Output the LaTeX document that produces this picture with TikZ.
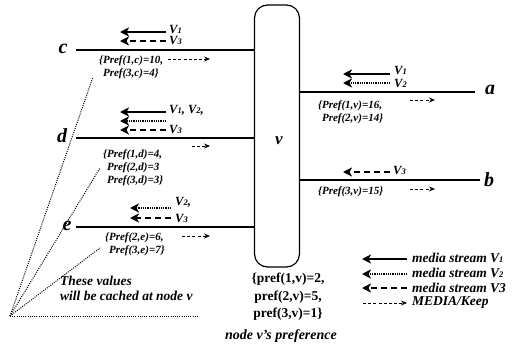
\documentclass[tikz,border=0pt]{standalone}
\usepackage{fontspec}
\setmainfont{Liberation Serif}
\usetikzlibrary{arrows.meta}
\newcommand{\sidx}[1]{{\fontsize{8.5}{8.5}\selectfont #1}}
\begin{document}
\begin{tikzpicture}[x=1pt,y=-1pt,
  lbl/.style={font=\bfseries\itshape\fontsize{11}{13}\selectfont, inner sep=0pt, align=left, anchor=west},
  vlbl/.style={font=\bfseries\itshape\fontsize{12.5}{13}\selectfont, inner sep=0pt, anchor=west},
  big/.style={font=\bfseries\itshape\fontsize{13.5}{14.5}\selectfont, inner sep=0pt, align=left, anchor=west},
  letter/.style={font=\bfseries\itshape\fontsize{20}{20}\selectfont, inner sep=0pt},
  link/.style={line width=1.2pt},
  sA/.style={line width=2.4pt, -{Stealth[length=9pt,width=9pt,inset=2.5pt]}},
  sB/.style={line width=1.8pt, dash pattern=on 1pt off 0.8pt, -{Stealth[length=9pt,width=9pt,inset=2.5pt]}},
  sC/.style={line width=2.4pt, dash pattern=on 6pt off 4pt, -{Stealth[length=9pt,width=9pt,inset=2.5pt]}},
  keep/.style={line width=0.8pt, dash pattern=on 3pt off 2.2pt, -{Stealth[length=6pt,width=5pt]}},
  cache/.style={line width=1pt, dash pattern=on 1pt off 1.2pt},
]
\useasboundingbox (0,0) rectangle (530,348);

% central node v
\node[draw, line width=1.2pt, rounded corners=13pt, minimum width=45pt, minimum height=262pt, inner sep=0pt] (v) at (277,136) {};
\node[font=\bfseries\itshape\fontsize{17}{17}\selectfont, inner sep=0pt] (vlab) at (279,141) {v};

% ---- left links ----
\node[letter] (c) at (63,49) {c};
\node[letter] (d) at (62,136) {d};
\node[letter] (e) at (67,226) {e};
\coordinate (cL) at (76,50);
\coordinate (dL) at (76,138);
\coordinate (eL) at (76,227);
\draw[link] (cL) -- (cL -| v.west);
\draw[link] (dL) -- (dL -| v.west);
\draw[link] (eL) -- (eL -| v.west);

% c streams
\coordinate (c1s) at (166,32); \coordinate (c1e) at (120,32);
\coordinate (c3s) at (166,41); \coordinate (c3e) at (120,41);
\draw[sA] (c1s) -- (c1e);
\draw[sC] (c3s) -- (c3e);
\node[vlbl] (c1l) at (169,30) {V\sidx{1}};
\node[vlbl] (c3l) at (169,41) {V\sidx{3}};
\node[lbl, anchor=north west] (cp) at (99,56) {\{Pref(1,c)=10,\\\hphantom{\{}Pref(3,c)=4\}};
\coordinate (ck1) at (168,59); \coordinate (ck2) at (210,59);
\draw[keep] (ck1) -- (ck2);

% d streams
\coordinate (d1s) at (166,112); \coordinate (d1e) at (120,112);
\coordinate (d2s) at (166,121); \coordinate (d2e) at (120,121);
\coordinate (d3s) at (166,130); \coordinate (d3e) at (120,130);
\draw[sA] (d1s) -- (d1e);
\draw[sB] (d2s) -- (d2e);
\draw[sC] (d3s) -- (d3e);
\node[vlbl] (d1l) at (169,110) {V\sidx{1}, V\sidx{2},};
\node[vlbl] (d3l) at (169,130) {V\sidx{3}};
\node[lbl, anchor=north west] (dp) at (103,150) {\{Pref(1,d)=4,\\\hphantom{\{}Pref(2,d)=3\\\hphantom{\{}Pref(3,d)=3\}};
\coordinate (dk1) at (192,146); \coordinate (dk2) at (210,146);
\draw[keep] (dk1) -- (dk2);

% e streams
\coordinate (e2s) at (171,208); \coordinate (e2e) at (130,208);
\coordinate (e3s) at (171,218); \coordinate (e3e) at (130,218);
\draw[sB] (e2s) -- (e2e);
\draw[sC] (e3s) -- (e3e);
\node[vlbl] (e2l) at (175,202) {V\sidx{2},};
\node[vlbl] (e3l) at (175,218) {V\sidx{3}};
\node[lbl, anchor=north west] (ep) at (105,233) {\{Pref(2,e)=6,\\\hphantom{\{}Pref(3,e)=7\}};
\coordinate (ek1) at (182,236); \coordinate (ek2) at (210,236);
\draw[keep] (ek1) -- (ek2);

% ---- right links ----
\node[letter] (a) at (490,90) {a};
\node[letter] (b) at (489,180) {b};
\coordinate (aR) at (475,92);
\coordinate (bR) at (480,180);
\draw[link] (aR -| v.east) -- (aR);
\draw[link] (bR -| v.east) -- (bR);

\coordinate (a1s) at (390,74); \coordinate (a1e) at (343,74);
\coordinate (a2s) at (390,83); \coordinate (a2e) at (343,83);
\draw[sA] (a1s) -- (a1e);
\draw[sB] (a2s) -- (a2e);
\node[vlbl] (a1l) at (394,71) {V\sidx{1}};
\node[vlbl] (a2l) at (394,84) {V\sidx{2}};
\node[lbl, anchor=north west] (ap) at (318,101) {\{Pref(1,v)=16,\\\hphantom{\{}Pref(2,v)=14\}};
\coordinate (ak1) at (410,100); \coordinate (ak2) at (435,100);
\draw[keep] (ak1) -- (ak2);

\coordinate (b3s) at (390,172); \coordinate (b3e) at (343,172);
\draw[sC] (b3s) -- (b3e);
\node[vlbl] (b3l) at (393,171) {V\sidx{3}};
\node[lbl] (bp) at (318,192) {\{Pref(3,v)=15\}};
\coordinate (bk1) at (410,189); \coordinate (bk2) at (435,189);
\draw[keep] (bk1) -- (bk2);

% ---- node v's preference ----
\node[font=\bfseries\fontsize{13.5}{17.5}\selectfont, align=center, inner sep=0pt, anchor=north] (vp) at (288,273)
  {\{pref(1,v)=2,\\pref(2,v)=5,\\pref(3,v)=1\}};
\node[font=\bfseries\itshape\fontsize{14}{14}\selectfont, inner sep=0pt] (vcap) at (281,336) {node v's preference};

% ---- cached values ----
\coordinate (cache) at (10,316);
\coordinate (q1) at (93,77);
\coordinate (q2) at (100,168);
\coordinate (q3) at (100,248);
\coordinate (q4) at (198,316);
\draw[cache] (cache) -- (q1);
\draw[cache] (cache) -- (q2);
\draw[cache] (cache) -- (q3);
\draw[cache] (cache) -- (q4);
\node[big, anchor=north west] (note) at (60,276) {These values\\will be cached at node v};

% ---- legend ----
\coordinate (l1s) at (407,259); \coordinate (l1e) at (362,259);
\coordinate (l2s) at (407,274); \coordinate (l2e) at (362,274);
\coordinate (l3s) at (407,288); \coordinate (l3e) at (362,288);
\coordinate (l4s) at (363,303); \coordinate (l4e) at (407,303);
\draw[sA] (l1s) -- (l1e);
\draw[sB] (l2s) -- (l2e);
\draw[sC] (l3s) -- (l3e);
\draw[keep] (l4s) -- (l4e);
\node[big] (t1) at (412,258) {media stream V\sidx{1}};
\node[big] (t2) at (412,273) {media stream V\sidx{2}};
\node[big] (t3) at (412,288) {media stream V3};
\node[big] (t4) at (412,302) {MEDIA/Keep};
\end{tikzpicture}
\end{document}
